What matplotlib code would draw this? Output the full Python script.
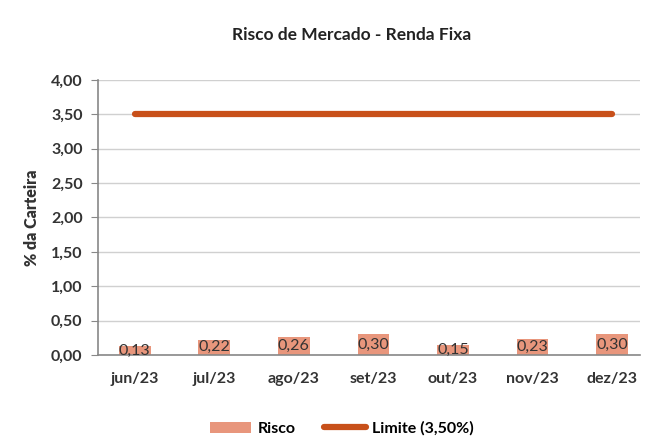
import numpy as np
import matplotlib.pyplot as plt

# data
meses = ['jun/23', 'jul/23', 'ago/23', 'set/23', 'out/23', 'nov/23', 'dez/23']
risco = [0.13, 0.22, 0.26, 0.30, 0.15, 0.23, 0.30]
limite = [3.50] * len(meses)

plt.rcParams['font.family'] = ['Lato', 'DejaVu Sans']

fig = plt.figure(figsize=(6.7, 4.42), dpi=100)
ax = fig.add_axes([0.146, 0.197, 0.809, 0.622])

x = np.arange(len(meses))
barras = ax.bar(x, risco, width=0.4, color='#E8967C', label='Risco', zorder=2)
linha, = ax.plot(x, limite, color='#C8501A', lw=4.5, solid_capstyle='round',
                 label='Limite (3,50%)', zorder=3)

for xi, v in zip(x, risco):
    ax.text(xi, v / 2, f'{v:.2f}'.replace('.', ','), ha='center', va='center',
            fontsize=11.5, color='#333333', zorder=4)

ax.set_ylim(0, 4)
ax.set_xlim(-0.465, 6.35)
yt = np.arange(0, 4.01, 0.5)
ax.set_yticks(yt)
ax.set_yticklabels([f'{t:.2f}'.replace('.', ',') for t in yt],
                   fontsize=11.5, fontweight='bold', color='#333333')
ax.set_xticks(x)
ax.set_xticklabels(meses, fontsize=11.5, fontweight='bold', color='#333333')
ax.tick_params(axis='x', length=0, pad=12)
ax.tick_params(axis='y', length=5, color='#888888', direction='out', pad=6)
ax.yaxis.grid(True, color='#d0d0d0', lw=1, zorder=0)
ax.set_axisbelow(True)
for s in ['top', 'right']:
    ax.spines[s].set_visible(False)
for s in ['left', 'bottom']:
    ax.spines[s].set_color('#888888')
    ax.spines[s].set_linewidth(1.2)

ax.set_ylabel('% da Carteira', fontsize=11.5, fontweight='heavy',
              color='#333333', labelpad=8)
fig.text(0.525, 0.92, 'Risco de Mercado - Renda Fixa', ha='center',
         va='center', fontsize=12.5, fontweight='bold', color='#222222')

fig.legend([barras, linha], ['Risco', 'Limite (3,50%)'], loc='center',
           bbox_to_anchor=(0.51, 0.03), ncol=2, frameon=False,
           handlelength=2.6, handletextpad=0.4, columnspacing=1.8,
           prop={'weight': 'bold', 'size': 11.5})

fig.savefig('out.png', dpi=100)
